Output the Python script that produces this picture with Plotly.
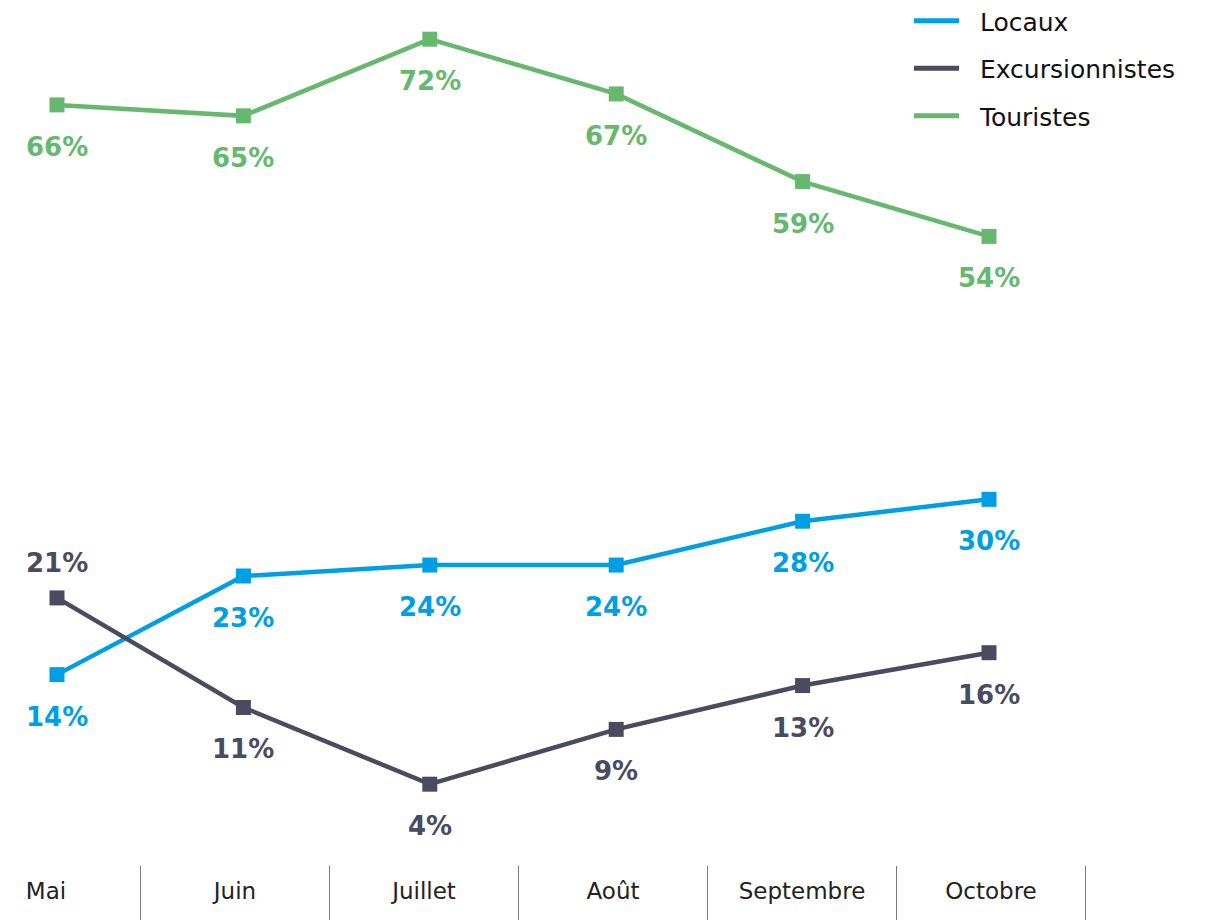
import plotly.graph_objects as go

months = ["Mai", "Juin", "Juillet", "Août", "Septembre", "Octobre"]
locaux = [14, 23, 24, 24, 28, 30]
excursionnistes = [21, 11, 4, 9, 13, 16]
touristes = [66, 65, 72, 67, 59, 54]

series = [
    ("Locaux", locaux, "#009FE3", ["below"] * 6),
    ("Excursionnistes", excursionnistes, "#4B4B5F", ["above"] + ["below"] * 5),
    ("Touristes", touristes, "#66B86E", ["below"] * 6),
]

LABEL_FONT = "DejaVu Sans"
TEXT_FONT = "DejaVu Sans"
W, H = 1218, 912  # page body has an 8px margin

fig = go.Figure()
annotations = []
for name, vals, color, pos in series:
    fig.add_trace(go.Scatter(
        x=months, y=vals, mode="lines+markers", showlegend=False,
        line=dict(color=color, width=4.5),
        marker=dict(symbol="square", size=15, color=color),
        xaxis="x", yaxis="y",
    ))
    for m, v, p in zip(months, vals, pos):
        annotations.append(dict(
            x=m, y=v, xref="x", yref="y", text=f"<b>{v}%</b>", showarrow=False,
            yshift=-42 if p == "below" else 35,
            font=dict(family=LABEL_FONT, size=26, color=color),
        ))

for name, vals, color, pos in series:
    fig.add_trace(go.Scatter(
        x=[None], y=[None], mode="lines", name="\u00a0\u00a0" + name,
        line=dict(color=color, width=5), legendgroup=name,
        xaxis="x", yaxis="y",
    ))

# category labels row
fig.add_trace(go.Scatter(
    x=months, y=[0] * len(months), mode="text", text=months,
    textfont=dict(family=TEXT_FONT, size=23, color="#222222"),
    textposition="middle center", showlegend=False,
    xaxis="x2", yaxis="y2", hoverinfo="skip",
))

fig.update_layout(
    width=W, height=H,
    margin=dict(l=0, r=0, t=0, b=0, autoexpand=False),
    paper_bgcolor="white", plot_bgcolor="rgba(0,0,0,0)",
    annotations=annotations,
    xaxis=dict(domain=[0, 1], type="category", categoryorder="array", categoryarray=months,
               range=[-49 / 186.4, (W - 49) / 186.4], visible=False),
    yaxis=dict(domain=[0, 1], range=[-(H - 820) / 10.956, 820 / 10.956], visible=False),
    xaxis2=dict(domain=[0, 1], anchor="y2", type="category", categoryorder="array",
                categoryarray=months, range=[-38 / 189, (W - 38) / 189],
                showgrid=True, tickson="boundaries", gridcolor="#7a7a7a", gridwidth=1.3,
                showticklabels=False, showline=False, zeroline=False, ticks=""),
    yaxis2=dict(domain=[0, 54 / H], anchor="x2", range=[-0.5, 0.5],
                visible=False, showgrid=False, zeroline=False),
    legend=dict(x=901 / W, y=1 + 10 / H, xanchor="left", yanchor="top",
                font=dict(family=TEXT_FONT, size=25, color="#111111"),
                traceorder="grouped", tracegroupgap=12, itemwidth=45,
                bgcolor="rgba(0,0,0,0)"),
)

fig.write_html("out.html")
